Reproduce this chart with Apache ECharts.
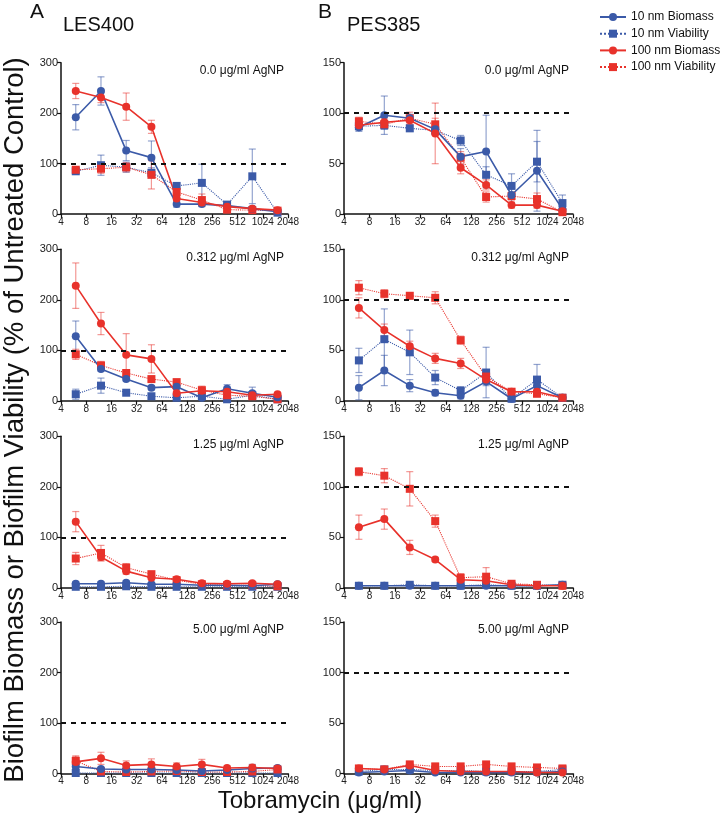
<!DOCTYPE html>
<html><head><meta charset="utf-8">
<script src="https://cdn.jsdelivr.net/npm/echarts@6/dist/echarts.min.js"></script>
<style>html,body{margin:0;padding:0;background:#fff}#c{width:720px;height:827px}</style>
</head><body><div id="c"></div>
<script>
// ---------- DATA ----------
const conc = [6, 12, 24, 48, 96, 192, 384, 768, 1536];           // Tobramycin (µg/ml)
const seriesNames = ['10 nm Biomass', '10 nm Viability', '100 nm Biomass', '100 nm Viability'];
const panelLabels = ['0.0 μg/ml AgNP', '0.312 μg/ml AgNP', '1.25 μg/ml AgNP', '5.00 μg/ml AgNP'];
const leftYTicks = [0, 100, 200, 300];
const rightYTicks = [0, 50, 100, 150];

// A: LES400, 0.0 µg/ml AgNP
const A1_bio10 = [192, 244, 126, 112, 20, 20, 17, 11, 5];
const A1_bio10_err = [25, 28, 20, 33, 6, 5, 3, 3, 2];
const A1_via10 = [85, 97, 93, 82, 56, 62, 19, 75, 3];
const A1_via10_err = [5, 20, 10, 10, 5, 37, 4, 54, 3];
const A1_bio100 = [244, 231, 213, 173, 31, 23, 15, 11, 8];
const A1_bio100_err = [15, 10, 27, 13, 5, 6, 3, 3, 2];
const A1_via100 = [88, 90, 93, 78, 44, 28, 9, 8, 7];
const A1_via100_err = [4, 9, 9, 28, 8, 12, 4, 4, 2];
// B: PES385, 0.0 µg/ml AgNP
const B1_bio10 = [86, 98, 95, 84, 57, 62, 19, 43, 5];
const B1_bio10_err = [4, 19, 4, 5, 8, 36, 8, 40, 4];
const B1_via10 = [87, 88, 85, 83, 73, 39, 28, 52, 11];
const B1_via10_err = [3, 4, 3, 4, 5, 8, 12, 20, 8];
const B1_bio100 = [88, 91, 93, 80, 46, 29, 9, 9, 3];
const B1_bio100_err = [4, 4, 4, 30, 6, 5, 3, 3, 2];
const B1_via100 = [92, 89, 95, 89, 56, 17, 18, 15, 2];
const B1_via100_err = [4, 4, 6, 6, 6, 5, 4, 6, 2];
// A: 0.312
const A2_bio10 = [128, 63, 43, 26, 28, 6, 24, 15, 7];
const A2_bio10_err = [30, 4, 4, 4, 4, 3, 8, 12, 3];
const A2_via10 = [13, 30, 16, 9, 6, 9, 3, 11, 3];
const A2_via10_err = [10, 15, 4, 3, 3, 3, 3, 3, 3];
const A2_bio100 = [228, 153, 91, 83, 15, 20, 18, 11, 13];
const A2_bio100_err = [45, 22, 42, 28, 4, 5, 4, 3, 3];
const A2_via100 = [92, 70, 55, 43, 37, 21, 11, 9, 3];
const A2_via100_err = [10, 8, 6, 5, 5, 8, 4, 4, 3];
// B: 0.312
const B2_bio10 = [13, 30, 15, 8, 5, 19, 2, 15, 3];
const B2_bio10_err = [12, 15, 6, 3, 3, 4, 2, 4, 2];
const B2_via10 = [40, 61, 48, 23, 10, 28, 2, 21, 3];
const B2_via10_err = [12, 30, 22, 7, 4, 25, 2, 15, 2];
const B2_bio100 = [92, 70, 54, 42, 37, 21, 9, 9, 3];
const B2_bio100_err = [10, 6, 5, 5, 5, 4, 3, 3, 2];
const B2_via100 = [112, 106, 104, 102, 60, 24, 9, 7, 3];
const B2_via100_err = [7, 4, 3, 6, 4, 6, 3, 3, 2];
// A: 1.25
const A3_bio10 = [8, 8, 10, 7, 7, 5, 5, 4, 7];
const A3_bio10_err = [4, 4, 4, 3, 3, 3, 2, 2, 3];
const A3_via10 = [2, 2, 3, 2, 2, 2, 2, 2, 2];
const A3_via10_err = [1, 1, 1, 1, 1, 1, 1, 1, 1];
const A3_bio100 = [131, 61, 33, 20, 17, 9, 8, 9, 7];
const A3_bio100_err = [20, 8, 6, 4, 4, 3, 3, 3, 3];
const A3_via100 = [58, 69, 40, 27, 15, 7, 5, 5, 3];
const A3_via100_err = [12, 15, 8, 5, 5, 3, 3, 3, 3];
// B: 1.25
const B3_bio10 = [2, 2, 2, 2, 2, 2, 2, 2, 3];
const B3_bio10_err = [1, 1, 1, 1, 1, 1, 1, 1, 1];
const B3_via10 = [2, 2, 3, 2, 2, 3, 2, 2, 3];
const B3_via10_err = [1, 1, 1, 1, 1, 1, 1, 1, 1];
const B3_bio100 = [60, 68, 40, 28, 8, 7, 3, 2, 2];
const B3_bio100_err = [12, 10, 7, 2, 2, 2, 1, 1, 1];
const B3_via100 = [115, 111, 98, 66, 10, 11, 4, 3, 2];
const B3_via100_err = [4, 7, 17, 6, 4, 9, 2, 2, 2];
// A: 5.00
const A4_bio10 = [14, 9, 8, 8, 7, 5, 7, 10, 11];
const A4_bio10_err = [4, 3, 2, 2, 2, 2, 2, 8, 3];
const A4_via10 = [1, 1, 1, 1, 1, 1, 1, 1, 1];
const A4_via10_err = [1, 1, 1, 1, 1, 1, 1, 1, 1];
const A4_bio100 = [23, 30, 16, 18, 14, 18, 11, 12, 10];
const A4_bio100_err = [10, 12, 9, 11, 7, 10, 4, 5, 4];
const A4_via100 = [25, 4, 3, 4, 5, 3, 3, 4, 8];
const A4_via100_err = [10, 3, 2, 2, 2, 2, 2, 2, 3];
// B: 5.00
const B4_bio10 = [1, 2, 3, 1, 1, 1, 1, 1, 2];
const B4_bio10_err = [1, 1, 1, 1, 1, 1, 1, 1, 1];
const B4_via10 = [2, 4, 4, 3, 3, 2, 2, 2, 4];
const B4_via10_err = [1, 2, 1, 1, 1, 1, 1, 1, 1];
const B4_bio100 = [5, 4, 8, 3, 2, 2, 2, 1, 1];
const B4_bio100_err = [2, 2, 3, 1, 1, 1, 1, 1, 1];
const B4_via100 = [5, 4, 9, 7, 7, 9, 7, 6, 5];
const B4_via100_err = [2, 2, 3, 3, 3, 2, 3, 2, 2];

// ---------- LAYOUT ----------
const BLUE = '#3b5aa8', RED = '#e8322b';
const BLUE_ERR = 'rgba(59,90,168,0.55)', RED_ERR = 'rgba(232,50,43,0.5)';
const colLeft = [61, 344], colWidth = [227, 229];
const rowTop = [62.7, 249.3, 436.3, 622], rowH = 151.5;
const FONT = '"Liberation Sans", Arial, sans-serif';

const panels = [
  {col: 0, row: 0, d: [A1_bio10, A1_bio10_err, A1_via10, A1_via10_err, A1_bio100, A1_bio100_err, A1_via100, A1_via100_err]},
  {col: 1, row: 0, d: [B1_bio10, B1_bio10_err, B1_via10, B1_via10_err, B1_bio100, B1_bio100_err, B1_via100, B1_via100_err]},
  {col: 0, row: 1, d: [A2_bio10, A2_bio10_err, A2_via10, A2_via10_err, A2_bio100, A2_bio100_err, A2_via100, A2_via100_err]},
  {col: 1, row: 1, d: [B2_bio10, B2_bio10_err, B2_via10, B2_via10_err, B2_bio100, B2_bio100_err, B2_via100, B2_via100_err]},
  {col: 0, row: 2, d: [A3_bio10, A3_bio10_err, A3_via10, A3_via10_err, A3_bio100, A3_bio100_err, A3_via100, A3_via100_err]},
  {col: 1, row: 2, d: [B3_bio10, B3_bio10_err, B3_via10, B3_via10_err, B3_bio100, B3_bio100_err, B3_via100, B3_via100_err]},
  {col: 0, row: 3, d: [A4_bio10, A4_bio10_err, A4_via10, A4_via10_err, A4_bio100, A4_bio100_err, A4_via100, A4_via100_err]},
  {col: 1, row: 3, d: [B4_bio10, B4_bio10_err, B4_via10, B4_via10_err, B4_bio100, B4_bio100_err, B4_via100, B4_via100_err]}
];

const grids = [], xAxes = [], yAxes = [], series = [], graphics = [];

function errSeries(vals, errs, gi, color) {
  return {
    type: 'custom', xAxisIndex: gi, yAxisIndex: gi, silent: true, animation: false, z: 2,
    data: conc.map((c, i) => [c, Math.max(0, vals[i] - errs[i]), vals[i] + errs[i]]),
    encode: {x: 0, y: [1, 2]},
    renderItem: function (params, api) {
      const x = api.value(0);
      const p1 = api.coord([x, api.value(1)]);
      const p2 = api.coord([x, api.value(2)]);
      const w = 3.5;
      const st = {stroke: color, lineWidth: 1.2};
      return {type: 'group', children: [
        {type: 'line', shape: {x1: p1[0], y1: p1[1], x2: p2[0], y2: p2[1]}, style: st},
        {type: 'line', shape: {x1: p1[0] - w, y1: p1[1], x2: p1[0] + w, y2: p1[1]}, style: st},
        {type: 'line', shape: {x1: p2[0] - w, y1: p2[1], x2: p2[0] + w, y2: p2[1]}, style: st}
      ]};
    }
  };
}

function lineSeries(name, vals, gi, color, dotted, withRef) {
  const s = {
    type: 'line', name: name, xAxisIndex: gi, yAxisIndex: gi, animation: false, z: 3,
    data: conc.map((c, i) => [c, vals[i]]),
    symbol: dotted ? 'rect' : 'circle', symbolSize: 8,
    showSymbol: true,
    itemStyle: {color: color},
    lineStyle: {color: color, width: dotted ? 1.1 : 1.6, type: dotted ? 'dotted' : 'solid'}
  };
  if (withRef) {
    s.markLine = {
      silent: true, symbol: 'none', animation: false,
      label: {show: false},
      lineStyle: {color: '#111', width: 2, type: [5, 5]},
      data: [{yAxis: 100}]
    };
  }
  return s;
}

panels.forEach((p, gi) => {
  const isLeft = p.col === 0;
  const yt = isLeft ? leftYTicks : rightYTicks;
  grids.push({left: colLeft[p.col], top: rowTop[p.row], width: colWidth[p.col], height: rowH, containLabel: false});
  xAxes.push({
    type: 'log', logBase: 2, min: 4, max: 2048, splitNumber: 9, gridIndex: gi,
    axisLine: {show: true, lineStyle: {color: '#111', width: 1.5}},
    axisTick: {show: true, length: 4, lineStyle: {color: '#111', width: 1.2}},
    axisLabel: {fontSize: 10, color: '#222', margin: 3, fontFamily: FONT,
      formatter: v => String(Math.round(v)), showMaxLabel: true, showMinLabel: true, hideOverlap: false},
    splitLine: {show: false}, minorTick: {show: false}
  });
  yAxes.push({
    type: 'value', gridIndex: gi, min: yt[0], max: yt[yt.length - 1], interval: yt[1] - yt[0],
    axisLine: {show: true, lineStyle: {color: '#111', width: 1.5}},
    axisTick: {show: true, length: 4, lineStyle: {color: '#111', width: 1.2}},
    axisLabel: {fontSize: 11, color: '#222', margin: 3, fontFamily: FONT},
    splitLine: {show: false}
  });
  const d = p.d;
  series.push(errSeries(d[0], d[1], gi, BLUE_ERR));
  series.push(errSeries(d[2], d[3], gi, BLUE_ERR));
  series.push(errSeries(d[4], d[5], gi, RED_ERR));
  series.push(errSeries(d[6], d[7], gi, RED_ERR));
  series.push(lineSeries(seriesNames[1], d[2], gi, BLUE, true, true));
  series.push(lineSeries(seriesNames[3], d[6], gi, RED, true, false));
  series.push(lineSeries(seriesNames[0], d[0], gi, BLUE, false, false));
  series.push(lineSeries(seriesNames[2], d[4], gi, RED, false, false));

  graphics.push({
    type: 'text',
    x: colLeft[p.col] + colWidth[p.col] - 4, y: rowTop[p.row] + 8,
    style: {text: panelLabels[p.row], fill: '#111', font: '12px ' + FONT, textAlign: 'right', textVerticalAlign: 'middle'}
  });
});

graphics.push(
  {type: 'text', x: 30, y: 12, style: {text: 'A', fill: '#111', font: '21px ' + FONT, textVerticalAlign: 'middle'}},
  {type: 'text', x: 63, y: 25, style: {text: 'LES400', fill: '#111', font: '20px ' + FONT, textVerticalAlign: 'middle'}},
  {type: 'text', x: 318, y: 12, style: {text: 'B', fill: '#111', font: '21px ' + FONT, textVerticalAlign: 'middle'}},
  {type: 'text', x: 347, y: 25, style: {text: 'PES385', fill: '#111', font: '20px ' + FONT, textVerticalAlign: 'middle'}},
  {type: 'text', x: 320, y: 801, style: {text: 'Tobramycin (μg/ml)', fill: '#111', font: '24px ' + FONT, textAlign: 'center', textVerticalAlign: 'middle'}},
  {type: 'text', x: 15, y: 420, rotation: Math.PI / 2,
   style: {text: 'Biofilm Biomass or Biofilm Viability (% of Untreated Control)', fill: '#111', font: '27.5px ' + FONT, textAlign: 'center', textVerticalAlign: 'middle'}}
);

const chart = echarts.init(document.getElementById('c'), null, {renderer: 'canvas', width: 720, height: 827});
chart.setOption({
  backgroundColor: '#fff',
  animation: false,
  grid: grids, xAxis: xAxes, yAxis: yAxes, series: series,
  legend: {
    orient: 'vertical', left: 599, top: 11, itemWidth: 26, itemHeight: 10, itemGap: 4.7, padding: 0,
    data: seriesNames,
    textStyle: {fontSize: 12, color: '#111', fontFamily: FONT},
    selectedMode: false
  },
  graphic: graphics
});
</script></body></html>
